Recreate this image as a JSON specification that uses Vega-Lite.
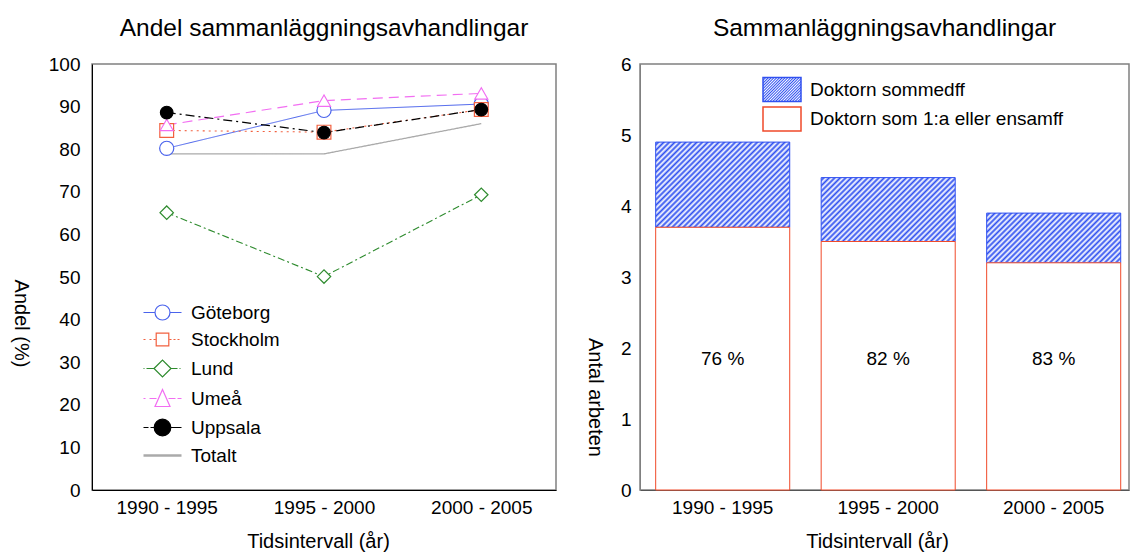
{
  "$schema": "https://vega.github.io/schema/vega-lite/v6.json",
  "background": "white",
  "padding": {"left": 9, "top": 14, "right": 0, "bottom": 0},
  "spacing": 26,
  "resolve": {"scale": {"stroke": "independent"}, "legend": {"stroke": "independent"}},
  "config": {
    "font": "Liberation Sans",
    "view": {"stroke": "#808080", "strokeWidth": 1.5},
    "axis": {"labelFontSize": 19, "titleFontSize": 20, "labelColor": "black", "titleColor": "black", "titleFontWeight": "normal", "grid": false, "ticks": false, "domainColor": "black", "labelFont": "Liberation Sans", "titleFont": "Liberation Sans"},
    "legend": {"title": null, "padding": 0, "labelFontSize": 19, "labelColor": "black", "labelFont": "Liberation Sans", "symbolSize": 400, "labelOffset": 19, "labelLimit": 400},
    "title": {"fontSize": 24.5, "fontWeight": "normal", "color": "black", "anchor": "middle", "frame": "group", "offset": 14, "baseline": "alphabetic", "font": "Liberation Sans"}
  },
  "hconcat": [
    {
      "width": 464,
      "height": 426,
      "title": "Andel sammanläggningsavhandlingar",
      "data": {"values": [
        {"stad": "Göteborg", "period": "1990 - 1995", "andel": 80.2},
        {"stad": "Göteborg", "period": "1995 - 2000", "andel": 89.1},
        {"stad": "Göteborg", "period": "2000 - 2005", "andel": 90.6},
        {"stad": "Stockholm", "period": "1990 - 1995", "andel": 84.4},
        {"stad": "Stockholm", "period": "1995 - 2000", "andel": 84.0},
        {"stad": "Stockholm", "period": "2000 - 2005", "andel": 89.3},
        {"stad": "Lund", "period": "1990 - 1995", "andel": 65.1},
        {"stad": "Lund", "period": "1995 - 2000", "andel": 50.1},
        {"stad": "Lund", "period": "2000 - 2005", "andel": 69.3},
        {"stad": "Umeå", "period": "1990 - 1995", "andel": 85.7},
        {"stad": "Umeå", "period": "1995 - 2000", "andel": 91.4},
        {"stad": "Umeå", "period": "2000 - 2005", "andel": 93.1},
        {"stad": "Uppsala", "period": "1990 - 1995", "andel": 88.6},
        {"stad": "Uppsala", "period": "1995 - 2000", "andel": 83.9},
        {"stad": "Uppsala", "period": "2000 - 2005", "andel": 89.3},
        {"stad": "Totalt", "period": "1990 - 1995", "andel": 78.9},
        {"stad": "Totalt", "period": "1995 - 2000", "andel": 78.9},
        {"stad": "Totalt", "period": "2000 - 2005", "andel": 86.0}
      ]},
      "encoding": {
        "x": {"field": "period", "type": "ordinal", "scale": {"type": "point", "padding": 0.475},
          "axis": {"title": "Tidsintervall (år)", "labelAngle": 0, "labelPadding": 8, "titlePadding": 14, "titleX": 226}},
        "y": {"field": "andel", "type": "quantitative", "scale": {"domain": [0, 100]},
          "axis": {"title": "Andel (%)", "values": [0, 10, 20, 30, 40, 50, 60, 70, 80, 90, 100], "labelPadding": 12, "titleAngle": 90, "titlePadding": 38, "titleY": 259}}
      },
      "layer": [
        {
          "mark": {"type": "line"},
          "encoding": {
            "stroke": {"field": "stad", "type": "nominal",
              "scale": {"domain": ["Göteborg", "Stockholm", "Lund", "Umeå", "Uppsala", "Totalt"], "range": ["#4a63ec", "#f2603f", "#2e8b2e", "#f26ef2", "#000000", "#aaaaaa"]},
              "legend": {"orient": "none", "legendX": 61, "legendY": 239, "rowPadding": 7,
                "encode": {"symbols": {"update": {
                  "shape": {"signal": "datum.value === 'Göteborg' ? 'M-1.9,0H-0.75M0.75,0H1.9M0.75,0A0.75,0.75,0,1,1,-0.75,0A0.75,0.75,0,1,1,0.75,0Z' : datum.value === 'Stockholm' ? 'M-1.9,0H-1.7M-1.3,0H-1.1M-0.9,0H-0.7M0.7,0H0.9M1.1,0H1.3M1.5,0H1.7M-0.63,-0.63H0.63V0.63H-0.63Z' : datum.value === 'Lund' ? 'M-1.9,0H-1.8M-1.6,0H-0.9M0.9,0H1.5M1.7,0H1.8M-0.85,0L0,-0.85L0.85,0L0,0.85Z' : datum.value === 'Umeå' ? 'M-1.9,0H-1.7M-1.3,0H-0.6M0.6,0H1.3M1.5,0H1.9M0,-0.9L0.75,0.8H-0.75Z' : datum.value === 'Uppsala' ? 'M-1.9,0H-1.4M-1.2,0H-0.8M0.8,0H1.9M0.83,0A0.83,0.83,0,1,1,-0.83,0A0.83,0.83,0,1,1,0.83,0Z' : 'M-1.9,0H1.9'"},
                  "fill": {"signal": "datum.value === 'Uppsala' ? 'black' : 'white'"},
                  "strokeWidth": {"signal": "datum.value === 'Totalt' ? 2.5 : 1.2"}
                }}}
              }},
            "strokeDash": {"field": "stad", "type": "nominal",
              "scale": {"domain": ["Göteborg", "Stockholm", "Lund", "Umeå", "Uppsala", "Totalt"], "range": [[1, 0], [2, 4], [7, 3, 2, 3], [10, 6], [9, 4, 2, 4], [1, 0]]},
              "legend": null},
            "strokeWidth": {"field": "stad", "type": "nominal",
              "scale": {"domain": ["Göteborg", "Stockholm", "Lund", "Umeå", "Uppsala", "Totalt"], "range": [1, 1.3, 1.3, 1.5, 1.2, 2]},
              "legend": null}
          }
        },
        {
          "transform": [{"filter": "datum.stad !== 'Totalt'"}],
          "mark": {"type": "point", "strokeWidth": 1.2, "opacity": 1},
          "encoding": {
            "stroke": {"field": "stad", "type": "nominal"},
            "shape": {"field": "stad", "type": "nominal",
              "scale": {"domain": ["Göteborg", "Stockholm", "Lund", "Umeå", "Uppsala", "Totalt"], "range": ["circle", "square", "diamond", "triangle-up", "circle", "circle"]},
              "legend": null},
            "fill": {"field": "stad", "type": "nominal",
              "scale": {"domain": ["Göteborg", "Stockholm", "Lund", "Umeå", "Uppsala", "Totalt"], "range": ["white", "white", "white", "white", "black", "white"]},
              "legend": null},
            "size": {"field": "stad", "type": "nominal",
              "scale": {"domain": ["Göteborg", "Stockholm", "Lund", "Umeå", "Uppsala", "Totalt"], "range": [200, 150, 200, 220, 260, 100]},
              "legend": null}
          }
        }
      ]
    },
    {
      "width": 489,
      "height": 426,
      "title": "Sammanläggningsavhandlingar",
      "data": {"values": [
        {"period": "1990 - 1995", "forste": 3.7, "totalt": 4.9, "andel": "76 %"},
        {"period": "1995 - 2000", "forste": 3.5, "totalt": 4.4, "andel": "82 %"},
        {"period": "2000 - 2005", "forste": 3.2, "totalt": 3.9, "andel": "83 %"}
      ]},
      "resolve": {"scale": {"stroke": "independent"}, "legend": {"stroke": "independent"}},
      "encoding": {
        "x": {"field": "period", "type": "nominal", "scale": {"paddingInner": 0.19, "paddingOuter": 0.0724, "align": 0.654},
          "axis": {"title": "Tidsintervall (år)", "labelAngle": 0, "labelPadding": 8, "titlePadding": 14, "titleX": 237, "domainColor": "#555555"}}
      },
      "layer": [
        {
          "transform": [{"filter": "datum.period === '1990 - 1995'"}],
          "mark": {"type": "bar", "strokeWidth": 1, "fill": {"gradient": "linear", "x1": 0, "y1": 0, "x2": 1.1691, "y2": 0.7433, "stops": [
            {"offset": 0, "color": "#ffffff"}, {"offset": 0.0125, "color": "#2f50f0"}, {"offset": 0.025, "color": "#ffffff"}, {"offset": 0.0375, "color": "#2f50f0"}, {"offset": 0.05, "color": "#ffffff"}, {"offset": 0.0625, "color": "#2f50f0"}, {"offset": 0.075, "color": "#ffffff"}, {"offset": 0.0875, "color": "#2f50f0"}, {"offset": 0.1, "color": "#ffffff"}, {"offset": 0.1125, "color": "#2f50f0"}, {"offset": 0.125, "color": "#ffffff"}, {"offset": 0.1375, "color": "#2f50f0"}, {"offset": 0.15, "color": "#ffffff"}, {"offset": 0.1625, "color": "#2f50f0"}, {"offset": 0.175, "color": "#ffffff"}, {"offset": 0.1875, "color": "#2f50f0"}, {"offset": 0.2, "color": "#ffffff"}, {"offset": 0.2125, "color": "#2f50f0"}, {"offset": 0.225, "color": "#ffffff"}, {"offset": 0.2375, "color": "#2f50f0"}, {"offset": 0.25, "color": "#ffffff"}, {"offset": 0.2625, "color": "#2f50f0"}, {"offset": 0.275, "color": "#ffffff"}, {"offset": 0.2875, "color": "#2f50f0"}, {"offset": 0.3, "color": "#ffffff"}, {"offset": 0.3125, "color": "#2f50f0"}, {"offset": 0.325, "color": "#ffffff"}, {"offset": 0.3375, "color": "#2f50f0"}, {"offset": 0.35, "color": "#ffffff"}, {"offset": 0.3625, "color": "#2f50f0"}, {"offset": 0.375, "color": "#ffffff"}, {"offset": 0.3875, "color": "#2f50f0"}, {"offset": 0.4, "color": "#ffffff"}, {"offset": 0.4125, "color": "#2f50f0"}, {"offset": 0.425, "color": "#ffffff"}, {"offset": 0.4375, "color": "#2f50f0"}, {"offset": 0.45, "color": "#ffffff"}, {"offset": 0.4625, "color": "#2f50f0"}, {"offset": 0.475, "color": "#ffffff"}, {"offset": 0.4875, "color": "#2f50f0"}, {"offset": 0.5, "color": "#ffffff"}, {"offset": 0.5125, "color": "#2f50f0"}, {"offset": 0.525, "color": "#ffffff"}, {"offset": 0.5375, "color": "#2f50f0"}, {"offset": 0.55, "color": "#ffffff"}, {"offset": 0.5625, "color": "#2f50f0"}, {"offset": 0.575, "color": "#ffffff"}, {"offset": 0.5875, "color": "#2f50f0"}, {"offset": 0.6, "color": "#ffffff"}, {"offset": 0.6125, "color": "#2f50f0"}, {"offset": 0.625, "color": "#ffffff"}, {"offset": 0.6375, "color": "#2f50f0"}, {"offset": 0.65, "color": "#ffffff"}, {"offset": 0.6625, "color": "#2f50f0"}, {"offset": 0.675, "color": "#ffffff"}, {"offset": 0.6875, "color": "#2f50f0"}, {"offset": 0.7, "color": "#ffffff"}, {"offset": 0.7125, "color": "#2f50f0"}, {"offset": 0.725, "color": "#ffffff"}, {"offset": 0.7375, "color": "#2f50f0"}, {"offset": 0.75, "color": "#ffffff"}, {"offset": 0.7625, "color": "#2f50f0"}, {"offset": 0.775, "color": "#ffffff"}, {"offset": 0.7875, "color": "#2f50f0"}, {"offset": 0.8, "color": "#ffffff"}, {"offset": 0.8125, "color": "#2f50f0"}, {"offset": 0.825, "color": "#ffffff"}, {"offset": 0.8375, "color": "#2f50f0"}, {"offset": 0.85, "color": "#ffffff"}, {"offset": 0.8625, "color": "#2f50f0"}, {"offset": 0.875, "color": "#ffffff"}, {"offset": 0.8875, "color": "#2f50f0"}, {"offset": 0.9, "color": "#ffffff"}, {"offset": 0.9125, "color": "#2f50f0"}, {"offset": 0.925, "color": "#ffffff"}, {"offset": 0.9375, "color": "#2f50f0"}, {"offset": 0.95, "color": "#ffffff"}, {"offset": 0.9625, "color": "#2f50f0"}, {"offset": 0.975, "color": "#ffffff"}, {"offset": 0.9875, "color": "#2f50f0"}, {"offset": 1, "color": "#ffffff"}
          ]}},
          "encoding": {
            "y": {"field": "forste", "type": "quantitative", "stack": null, "scale": {"domain": [0, 6]},
              "axis": {"title": "Antal arbeten", "values": [0, 1, 2, 3, 4, 5, 6], "format": "d", "labelPadding": 9, "titleAngle": 90, "titlePadding": 36, "titleY": 333, "domainColor": "#808080"}},
            "y2": {"field": "totalt"},
            "stroke": {"datum": "Doktorn sommedff", "type": "nominal", "scale": {"range": ["#3050f0"]},
              "legend": {"orient": "none", "legendX": 131, "legendY": 14.5, "symbolType": "M-1.9,-1.2H1.9V1.2H-1.9Z", "labelOffset": 17,
                "encode": {"symbols": {"update": {
                  "shape": {"signal": "'M-1.9,-1.2H1.9V1.2H-1.9Z'"},
                  "fill": {"value": {"gradient": "linear", "x1": 0, "y1": 0, "x2": 4.1387, "y2": 2.6139, "stops": [
                    {"offset": 0, "color": "#ffffff"}, {"offset": 0.0125, "color": "#2f50f0"}, {"offset": 0.025, "color": "#ffffff"}, {"offset": 0.0375, "color": "#2f50f0"}, {"offset": 0.05, "color": "#ffffff"}, {"offset": 0.0625, "color": "#2f50f0"}, {"offset": 0.075, "color": "#ffffff"}, {"offset": 0.0875, "color": "#2f50f0"}, {"offset": 0.1, "color": "#ffffff"}, {"offset": 0.1125, "color": "#2f50f0"}, {"offset": 0.125, "color": "#ffffff"}, {"offset": 0.1375, "color": "#2f50f0"}, {"offset": 0.15, "color": "#ffffff"}, {"offset": 0.1625, "color": "#2f50f0"}, {"offset": 0.175, "color": "#ffffff"}, {"offset": 0.1875, "color": "#2f50f0"}, {"offset": 0.2, "color": "#ffffff"}, {"offset": 0.2125, "color": "#2f50f0"}, {"offset": 0.225, "color": "#ffffff"}, {"offset": 0.2375, "color": "#2f50f0"}, {"offset": 0.25, "color": "#ffffff"}, {"offset": 0.2625, "color": "#2f50f0"}, {"offset": 0.275, "color": "#ffffff"}, {"offset": 0.2875, "color": "#2f50f0"}, {"offset": 0.3, "color": "#ffffff"}, {"offset": 0.3125, "color": "#2f50f0"}, {"offset": 0.325, "color": "#ffffff"}, {"offset": 0.3375, "color": "#2f50f0"}, {"offset": 0.35, "color": "#ffffff"}
                  ]}},
                  "strokeWidth": {"value": 1.2}
                }}}
              }}
          }
        },
        {
          "transform": [{"filter": "datum.period === '1995 - 2000'"}],
          "mark": {"type": "bar", "strokeWidth": 1, "fill": {"gradient": "linear", "x1": 0, "y1": 0, "x2": 1.3376, "y2": 0.6379, "stops": [
            {"offset": 0, "color": "#ffffff"}, {"offset": 0.0125, "color": "#2f50f0"}, {"offset": 0.025, "color": "#ffffff"}, {"offset": 0.0375, "color": "#2f50f0"}, {"offset": 0.05, "color": "#ffffff"}, {"offset": 0.0625, "color": "#2f50f0"}, {"offset": 0.075, "color": "#ffffff"}, {"offset": 0.0875, "color": "#2f50f0"}, {"offset": 0.1, "color": "#ffffff"}, {"offset": 0.1125, "color": "#2f50f0"}, {"offset": 0.125, "color": "#ffffff"}, {"offset": 0.1375, "color": "#2f50f0"}, {"offset": 0.15, "color": "#ffffff"}, {"offset": 0.1625, "color": "#2f50f0"}, {"offset": 0.175, "color": "#ffffff"}, {"offset": 0.1875, "color": "#2f50f0"}, {"offset": 0.2, "color": "#ffffff"}, {"offset": 0.2125, "color": "#2f50f0"}, {"offset": 0.225, "color": "#ffffff"}, {"offset": 0.2375, "color": "#2f50f0"}, {"offset": 0.25, "color": "#ffffff"}, {"offset": 0.2625, "color": "#2f50f0"}, {"offset": 0.275, "color": "#ffffff"}, {"offset": 0.2875, "color": "#2f50f0"}, {"offset": 0.3, "color": "#ffffff"}, {"offset": 0.3125, "color": "#2f50f0"}, {"offset": 0.325, "color": "#ffffff"}, {"offset": 0.3375, "color": "#2f50f0"}, {"offset": 0.35, "color": "#ffffff"}, {"offset": 0.3625, "color": "#2f50f0"}, {"offset": 0.375, "color": "#ffffff"}, {"offset": 0.3875, "color": "#2f50f0"}, {"offset": 0.4, "color": "#ffffff"}, {"offset": 0.4125, "color": "#2f50f0"}, {"offset": 0.425, "color": "#ffffff"}, {"offset": 0.4375, "color": "#2f50f0"}, {"offset": 0.45, "color": "#ffffff"}, {"offset": 0.4625, "color": "#2f50f0"}, {"offset": 0.475, "color": "#ffffff"}, {"offset": 0.4875, "color": "#2f50f0"}, {"offset": 0.5, "color": "#ffffff"}, {"offset": 0.5125, "color": "#2f50f0"}, {"offset": 0.525, "color": "#ffffff"}, {"offset": 0.5375, "color": "#2f50f0"}, {"offset": 0.55, "color": "#ffffff"}, {"offset": 0.5625, "color": "#2f50f0"}, {"offset": 0.575, "color": "#ffffff"}, {"offset": 0.5875, "color": "#2f50f0"}, {"offset": 0.6, "color": "#ffffff"}, {"offset": 0.6125, "color": "#2f50f0"}, {"offset": 0.625, "color": "#ffffff"}, {"offset": 0.6375, "color": "#2f50f0"}, {"offset": 0.65, "color": "#ffffff"}, {"offset": 0.6625, "color": "#2f50f0"}, {"offset": 0.675, "color": "#ffffff"}, {"offset": 0.6875, "color": "#2f50f0"}, {"offset": 0.7, "color": "#ffffff"}, {"offset": 0.7125, "color": "#2f50f0"}, {"offset": 0.725, "color": "#ffffff"}, {"offset": 0.7375, "color": "#2f50f0"}, {"offset": 0.75, "color": "#ffffff"}, {"offset": 0.7625, "color": "#2f50f0"}, {"offset": 0.775, "color": "#ffffff"}, {"offset": 0.7875, "color": "#2f50f0"}, {"offset": 0.8, "color": "#ffffff"}, {"offset": 0.8125, "color": "#2f50f0"}, {"offset": 0.825, "color": "#ffffff"}, {"offset": 0.8375, "color": "#2f50f0"}, {"offset": 0.85, "color": "#ffffff"}, {"offset": 0.8625, "color": "#2f50f0"}, {"offset": 0.875, "color": "#ffffff"}, {"offset": 0.8875, "color": "#2f50f0"}, {"offset": 0.9, "color": "#ffffff"}, {"offset": 0.9125, "color": "#2f50f0"}, {"offset": 0.925, "color": "#ffffff"}
          ]}},
          "encoding": {
            "y": {"field": "forste", "type": "quantitative", "stack": null},
            "y2": {"field": "totalt"},
            "stroke": {"datum": "Doktorn sommedff", "type": "nominal", "scale": {"range": ["#3050f0"]}, "legend": null}
          }
        },
        {
          "transform": [{"filter": "datum.period === '2000 - 2005'"}],
          "mark": {"type": "bar", "strokeWidth": 1, "fill": {"gradient": "linear", "x1": 0, "y1": 0, "x2": 1.4432, "y2": 0.5353, "stops": [
            {"offset": 0, "color": "#ffffff"}, {"offset": 0.0125, "color": "#2f50f0"}, {"offset": 0.025, "color": "#ffffff"}, {"offset": 0.0375, "color": "#2f50f0"}, {"offset": 0.05, "color": "#ffffff"}, {"offset": 0.0625, "color": "#2f50f0"}, {"offset": 0.075, "color": "#ffffff"}, {"offset": 0.0875, "color": "#2f50f0"}, {"offset": 0.1, "color": "#ffffff"}, {"offset": 0.1125, "color": "#2f50f0"}, {"offset": 0.125, "color": "#ffffff"}, {"offset": 0.1375, "color": "#2f50f0"}, {"offset": 0.15, "color": "#ffffff"}, {"offset": 0.1625, "color": "#2f50f0"}, {"offset": 0.175, "color": "#ffffff"}, {"offset": 0.1875, "color": "#2f50f0"}, {"offset": 0.2, "color": "#ffffff"}, {"offset": 0.2125, "color": "#2f50f0"}, {"offset": 0.225, "color": "#ffffff"}, {"offset": 0.2375, "color": "#2f50f0"}, {"offset": 0.25, "color": "#ffffff"}, {"offset": 0.2625, "color": "#2f50f0"}, {"offset": 0.275, "color": "#ffffff"}, {"offset": 0.2875, "color": "#2f50f0"}, {"offset": 0.3, "color": "#ffffff"}, {"offset": 0.3125, "color": "#2f50f0"}, {"offset": 0.325, "color": "#ffffff"}, {"offset": 0.3375, "color": "#2f50f0"}, {"offset": 0.35, "color": "#ffffff"}, {"offset": 0.3625, "color": "#2f50f0"}, {"offset": 0.375, "color": "#ffffff"}, {"offset": 0.3875, "color": "#2f50f0"}, {"offset": 0.4, "color": "#ffffff"}, {"offset": 0.4125, "color": "#2f50f0"}, {"offset": 0.425, "color": "#ffffff"}, {"offset": 0.4375, "color": "#2f50f0"}, {"offset": 0.45, "color": "#ffffff"}, {"offset": 0.4625, "color": "#2f50f0"}, {"offset": 0.475, "color": "#ffffff"}, {"offset": 0.4875, "color": "#2f50f0"}, {"offset": 0.5, "color": "#ffffff"}, {"offset": 0.5125, "color": "#2f50f0"}, {"offset": 0.525, "color": "#ffffff"}, {"offset": 0.5375, "color": "#2f50f0"}, {"offset": 0.55, "color": "#ffffff"}, {"offset": 0.5625, "color": "#2f50f0"}, {"offset": 0.575, "color": "#ffffff"}, {"offset": 0.5875, "color": "#2f50f0"}, {"offset": 0.6, "color": "#ffffff"}, {"offset": 0.6125, "color": "#2f50f0"}, {"offset": 0.625, "color": "#ffffff"}, {"offset": 0.6375, "color": "#2f50f0"}, {"offset": 0.65, "color": "#ffffff"}, {"offset": 0.6625, "color": "#2f50f0"}, {"offset": 0.675, "color": "#ffffff"}, {"offset": 0.6875, "color": "#2f50f0"}, {"offset": 0.7, "color": "#ffffff"}, {"offset": 0.7125, "color": "#2f50f0"}, {"offset": 0.725, "color": "#ffffff"}, {"offset": 0.7375, "color": "#2f50f0"}, {"offset": 0.75, "color": "#ffffff"}, {"offset": 0.7625, "color": "#2f50f0"}, {"offset": 0.775, "color": "#ffffff"}, {"offset": 0.7875, "color": "#2f50f0"}, {"offset": 0.8, "color": "#ffffff"}, {"offset": 0.8125, "color": "#2f50f0"}, {"offset": 0.825, "color": "#ffffff"}, {"offset": 0.8375, "color": "#2f50f0"}, {"offset": 0.85, "color": "#ffffff"}
          ]}},
          "encoding": {
            "y": {"field": "forste", "type": "quantitative", "stack": null},
            "y2": {"field": "totalt"},
            "stroke": {"datum": "Doktorn sommedff", "type": "nominal", "scale": {"range": ["#3050f0"]}, "legend": null}
          }
        },
        {
          "mark": {"type": "bar", "fill": "white", "strokeWidth": 1},
          "encoding": {
            "y": {"field": "forste", "type": "quantitative", "stack": null},
            "stroke": {"datum": "Doktorn som 1:a eller ensamff", "type": "nominal", "scale": {"range": ["#f04a2a"]},
              "legend": {"orient": "none", "legendX": 131, "legendY": 44, "symbolType": "M-1.9,-1.2H1.9V1.2H-1.9Z", "labelOffset": 17,
                "encode": {"symbols": {"update": {
                  "shape": {"signal": "'M-1.9,-1.2H1.9V1.2H-1.9Z'"},
                  "fill": {"value": "white"},
                  "strokeWidth": {"value": 1.2}
                }}}
              }}
          }
        },
        {
          "mark": {"type": "text", "fontSize": 19, "color": "black", "font": "Liberation Sans"},
          "encoding": {
            "y": {"datum": 1.85, "type": "quantitative"},
            "text": {"field": "andel"}
          }
        }
      ]
    }
  ]
}
